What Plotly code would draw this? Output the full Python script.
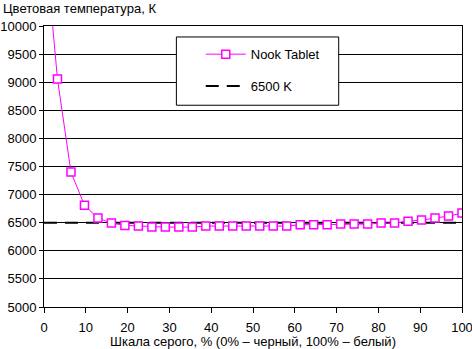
import plotly.graph_objects as go

# Grey scale level, % (32 measured steps from black to white)
gray_pct = [i * 100 / 31 for i in range(32)]
# Measured colour temperature, K
nook_temp = [11700, 9055, 7400, 6810, 6582, 6493, 6452, 6440,
             6422, 6422, 6422, 6422, 6440, 6440, 6440, 6440,
             6440, 6440, 6440, 6464, 6464, 6464, 6475, 6475,
             6475, 6493, 6493, 6528, 6546, 6582, 6617, 6671]
# Reference white point
ref_x = [0, 100]
ref_temp = [6500, 6500]

y_ticks = list(range(5000, 10001, 500))
y_labels = [str(v) for v in y_ticks]
x_ticks = list(range(0, 101, 10))
x_labels = [str(v) for v in x_ticks]

FONT = "Arial, Liberation Sans, sans-serif"
MAGENTA = "#FF00FF"

fig = go.Figure()

fig.add_trace(go.Scatter(
    x=ref_x, y=ref_temp, mode="lines", name="6500 K",
    line=dict(color="black", width=2, dash="13px,8px"),
    legendgroup="b", legendrank=2,
))

fig.add_trace(go.Scatter(
    x=gray_pct, y=nook_temp, mode="lines+markers", name="Nook Tablet",
    line=dict(color=MAGENTA, width=1),
    marker=dict(symbol="square", size=8, color="white",
                line=dict(color=MAGENTA, width=1.5)),
    legendgroup="a", legendrank=1,
))

# Legend frame
fig.add_shape(type="rect", xref="paper", yref="paper",
              x0=0.3167, x1=0.705, y0=0.718, y1=0.961,
              line=dict(color="black", width=1), fillcolor="white",
              layer="above")

fig.add_annotation(
    text="Цветовая температура, К", xref="paper", yref="paper",
    x=-0.104, y=1.063, xanchor="left", yanchor="middle", showarrow=False,
    font=dict(family=FONT, size=13, color="black"),
)

fig.update_layout(
    width=472, height=349,
    margin=dict(l=44, r=10, t=26, b=42, autoexpand=False),
    paper_bgcolor="white", plot_bgcolor="white",
    font=dict(family=FONT, size=13, color="black"),
    showlegend=True,
    legend=dict(
        x=0.375, y=0.953, xanchor="left", yanchor="top",
        bgcolor="rgba(0,0,0,0)", borderwidth=0,
        traceorder="grouped", tracegroupgap=12,
        font=dict(family=FONT, size=13, color="black"),
        itemwidth=40,
    ),
    xaxis=dict(
        range=[0, 100], tickvals=x_ticks, ticktext=x_labels,
        ticks="outside", ticklen=5, automargin=False,
        ticklabeloverflow="allow", ticklabelstandoff=3,
        tickcolor="black", showgrid=False, zeroline=False,
        showline=True, linecolor="black", linewidth=1, mirror=True,
        title=dict(text="Шкала серого, % (0% – черный, 100% – белый)",
                   standoff=3, font=dict(size=13)),
    ),
    yaxis=dict(
        range=[5000, 10000], tickvals=y_ticks, ticktext=y_labels,
        ticks="outside", ticklen=4, automargin=False,
        ticklabeloverflow="allow",
        tickcolor="black", showgrid=True, gridcolor="black", gridwidth=1,
        zeroline=False, showline=True, linecolor="black", linewidth=1,
        mirror=True,
    ),
)

fig.write_html("out.html")
